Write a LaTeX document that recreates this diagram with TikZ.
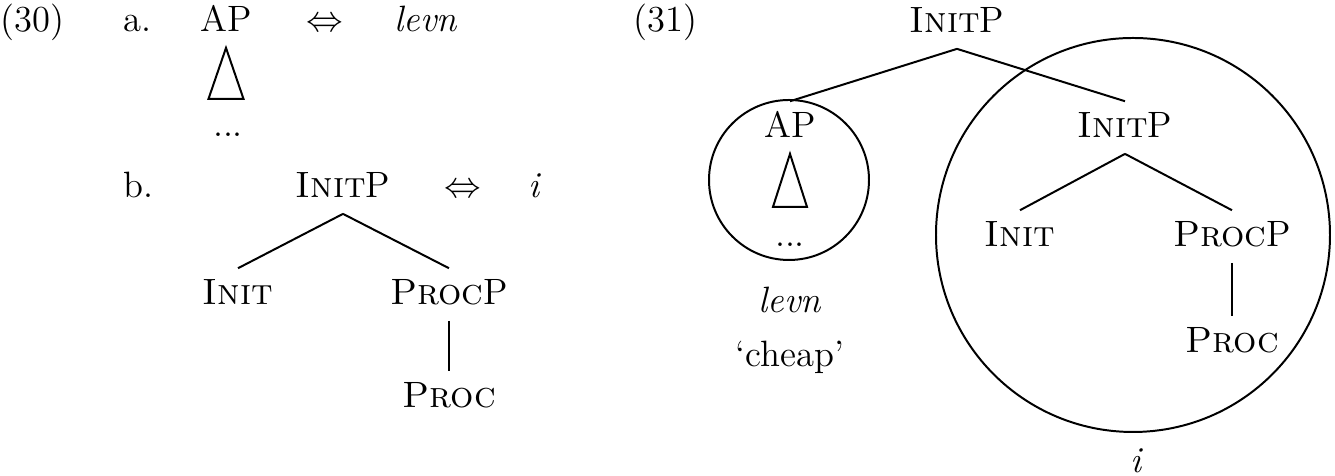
\documentclass[tikz,border=0pt]{standalone}
\usepackage{tikz}
\usetikzlibrary{positioning}
\usetikzlibrary{calc}

\begin{document}
\begin{tikzpicture}[x=0.0115cm, y=-0.0115cm, line width=0.65pt,
    font=\fontsize{12}{14}\selectfont,
    lbl/.style={inner sep=0pt, anchor=base},
    cat/.style={inner sep=0pt, anchor=base, text height=0.683em, text depth=0pt, outer sep=5.2pt}]

	\useasboundingbox (0,0) rectangle (1335,476);

	% (30) a.
	\node[lbl, anchor=base west] (num30) at (0,32) {(30)};
	\node[lbl, anchor=base west] (itema) at (123,32) {a.};
	\node[cat] (apa) at (226,32) {AP};
	\node[lbl] (eqa) at (325,32) {$\Leftrightarrow$};
	\node[lbl] (levna) at (426,32) {\textit{levn}};
	\node[lbl] (dotsa) at (228,137) {...};

	\draw (apa.south) -- ++(-17.5,51) -- ++(35,0) -- cycle;

	% (30) b.
	\node[lbl, anchor=base west] (itemb) at (123,198) {b.};
	\node[cat] (initpb) at (343,198) {\textsc{Init}P};
	\node[lbl] (eqb) at (463,198) {$\Leftrightarrow$};
	\node[lbl] (ib) at (535,198) {\textit{i}};
	\node[cat] (initb) at (238,305) {\textsc{Init}};
	\node[cat] (procpb) at (449,305) {\textsc{Proc}P};
	\node[cat] (procb) at (449,408) {\textsc{Proc}};

	\draw (initpb.south) -- (initb.north);
	\draw (initpb.south) -- (procpb.north);
	\draw (procpb.south) -- (procb.north);

	% (31)
	\node[lbl, anchor=base west] (num31) at (633,32) {(31)};
	\node[cat] (top) at (957,33) {\textsc{Init}P};
	\node[cat] (ap) at (790,138) {AP};
	\node[lbl] (dots) at (790,247) {...};
	\node[lbl] (levn) at (790,313) {\textit{levn}};
	\node[lbl] (gloss) at (790,367) {`cheap'};
	\node[cat] (initp) at (1125,138) {\textsc{Init}P};
	\node[cat] (init) at (1020,247) {\textsc{Init}};
	\node[cat] (procp) at (1232,247) {\textsc{Proc}P};
	\node[cat] (proc) at (1232,353) {\textsc{Proc}};
	\node[lbl] (i) at (1137,473) {\textit{i}};

	\draw (top.south) -- (ap.north);
	\draw (top.south) -- (initp.north);
	\draw (initp.south) -- (init.north);
	\draw (initp.south) -- (procp.north);
	\draw (procp.south) -- (proc.north);

	\draw (ap.south) -- ++(-17,53) -- ++(34,0) -- cycle;

	\draw (789,180) circle [radius=80];
	\draw (1133,235) circle [radius=197];

\end{tikzpicture}
\end{document}
